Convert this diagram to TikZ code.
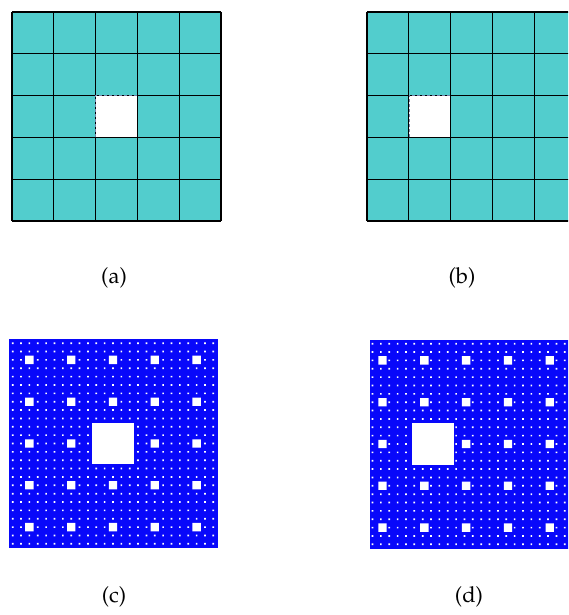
\documentclass[tikz,border=0pt]{standalone}
\usepackage[T1]{fontenc}
\usepackage{mathpazo}
\usepackage{tikz}
\definecolor{myteal}{RGB}{82,205,205}
\definecolor{myblue}{RGB}{8,8,250}
\definecolor{mygray}{RGB}{120,130,170}

\newcommand{\gridfive}[1]{% #1 = column of the hole
  \fill[myteal] (0,0) rectangle (209,209);
  \foreach \k in {0,...,5} {
    \draw[line width=1.2pt] (\k*41.8,0) -- (\k*41.8,209);
    \draw[line width=1.2pt] (0,\k*41.8) -- (209,\k*41.8);
  }
  \fill[white] (#1*41.8,2*41.8) rectangle ({(#1+1)*41.8},3*41.8);
  \draw[line width=1.2pt] ({(#1+1)*41.8},2*41.8) -- ({(#1+1)*41.8},3*41.8) -- (#1*41.8,3*41.8);
  \draw[mygray, dashed, dash pattern=on 3pt off 2pt] (#1*41.8,3*41.8) -- (#1*41.8,2*41.8) -- ({(#1+1)*41.8},2*41.8);
}

\newcommand{\carpet}[1]{% #1 = column of the hole at every level
  \fill[myblue] (0,0) rectangle (209,209);
  % level 1
  \fill[white] (#1*41.8,2*41.8) rectangle ++(41.8,41.8);
  % level 2
  \foreach \j in {0,...,4}
    \fill[white] \foreach \i in {0,...,4} {(\i*41.8+#1*8.36,\j*41.8+2*8.36) rectangle ++(8.36,8.36)};
  % level 3
  \foreach \j in {0,...,24}
    \fill[white] \foreach \i in {0,...,24} {(\i*8.36+#1*1.672,\j*8.36+2*1.672) rectangle ++(1.672,1.672)};
}

\begin{document}
\begin{tikzpicture}[x=1pt,y=-1pt]
  \useasboundingbox (0,0) rectangle (568,615);
  \clip (0,0) rectangle (568,615);

  % Grids
  \begin{scope}[shift={(12,12)}]
    \gridfive{2}
  \end{scope}
  \begin{scope}[shift={(367,12)}]
    \gridfive{1}
  \end{scope}

  % Carpets
  \begin{scope}[shift={(8.5,339)}]
    \carpet{2}
  \end{scope}
  \begin{scope}[shift={(370,339.5)}]
    \carpet{1}
  \end{scope}

  % Captions
  \node[font=\fontsize{22}{26}\selectfont] (lab-a) at (114,278) {(a)};
  \node[font=\fontsize{22}{26}\selectfont] (lab-b) at (462,278) {(b)};
  \node[font=\fontsize{22}{26}\selectfont] (lab-c) at (114,597) {(c)};
  \node[font=\fontsize{22}{26}\selectfont] (lab-d) at (469,597) {(d)};
\end{tikzpicture}
\end{document}
